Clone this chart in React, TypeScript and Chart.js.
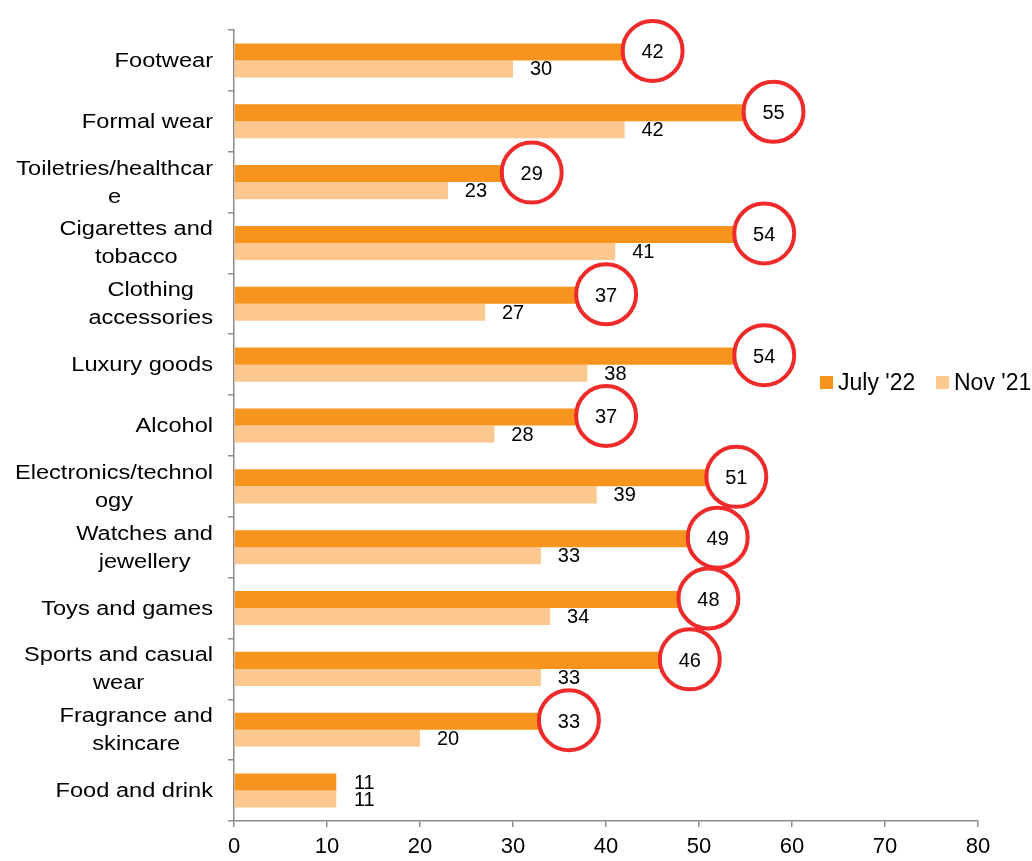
import React, { useEffect, useRef } from "react";
import { Chart, registerables } from "chart.js";

Chart.register(...registerables);

const categories: string[][] = [
  ["Footwear"],
  ["Formal wear"],
  ["Toiletries/healthcar", "e"],
  ["Cigarettes and", "tobacco"],
  ["Clothing", "accessories"],
  ["Luxury goods"],
  ["Alcohol"],
  ["Electronics/technol", "ogy"],
  ["Watches and", "jewellery"],
  ["Toys and games"],
  ["Sports and casual", "wear"],
  ["Fragrance and", "skincare"],
  ["Food and drink"],
];
const july22 = [42, 55, 29, 54, 37, 54, 37, 51, 49, 48, 46, 33, 11];
const nov21 = [30, 42, 23, 41, 27, 38, 28, 39, 33, 34, 33, 20, 11];
const circled = [true, true, true, true, true, true, true, true, true, true, true, true, false];
const seriesNames = ["July '22", "Nov '21"];
const xTicks = [0, 10, 20, 30, 40, 50, 60, 70, 80];

const COL_JULY = "#F7941E";
const COL_NOV = "#FCC88F";
const AXIS = "#8C8C8C";
const FONT = "'Liberation Sans', Arial, sans-serif";

export default function App() {
  const ref = useRef<HTMLCanvasElement>(null);
  useEffect(() => {
    if (!ref.current) return;
    const overlay = {
      id: "overlay",
      afterDatasetsDraw(chart: any) {
        const ctx = chart.ctx;
        const yScale = chart.scales.y;
        ctx.save();
        // category labels
        ctx.fillStyle = "#000";
        ctx.font = `20px ${FONT}`;
        ctx.textBaseline = "middle";
        ctx.textAlign = "center";
        const sx = 1.18;
        const right = 213;
        const lh = 28;
        categories.forEach((lines, i) => {
          const cy = yScale.getPixelForValue(i);
          const w = Math.max(...lines.map((l) => ctx.measureText(l).width)) * sx;
          const cx = right - w / 2;
          lines.forEach((l, k) => {
            const y = cy + (k - (lines.length - 1) / 2) * lh;
            ctx.save();
            ctx.translate(cx, y);
            ctx.scale(sx, 1);
            ctx.fillText(l, 0, 1);
            ctx.restore();
          });
        });
        // data labels
        ctx.font = `20px ${FONT}`;
        const labelPos: { x: number; y: number }[][] = [];
        [0, 1].forEach((d) => {
          const meta = chart.getDatasetMeta(d);
          labelPos[d] = [];
          meta.data.forEach((bar: any, i: number) => {
            const x = bar.x + 28;
            const y = bar.y + 1;
            labelPos[d][i] = { x, y };
            ctx.fillText(String(chart.data.datasets[d].data[i]), x, y);
          });
        });
        // highlight circles
        ctx.strokeStyle = "#EE2A2A";
        ctx.lineWidth = 4;
        labelPos[0].forEach((p, i) => {
          if (!circled[i]) return;
          ctx.beginPath();
          ctx.arc(p.x, p.y - 2, 30, 0, Math.PI * 2);
          ctx.stroke();
        });
        // legend
        ctx.font = `23px ${FONT}`;
        ctx.textAlign = "left";
        const legendItems = [
          { x: 820, color: COL_JULY, text: seriesNames[0] },
          { x: 936, color: COL_NOV, text: seriesNames[1] },
        ];
        legendItems.forEach((it) => {
          ctx.fillStyle = it.color;
          ctx.fillRect(it.x, 376, 13, 13);
          ctx.fillStyle = "#000";
          ctx.fillText(it.text, it.x + 18, 384);
        });
        ctx.restore();
      },
    };
    const chart = new Chart(ref.current, {
      type: "bar",
      data: {
        labels: categories.map((c) => c.join("")),
        datasets: [
          {
            label: seriesNames[0],
            data: july22,
            backgroundColor: COL_JULY,
            barPercentage: 1,
            categoryPercentage: 0.56,
          },
          {
            label: seriesNames[1],
            data: nov21,
            backgroundColor: COL_NOV,
            barPercentage: 1,
            categoryPercentage: 0.56,
          },
        ],
      },
      options: {
        indexAxis: "y",
        animation: false,
        responsive: false,
        layout: { padding: { top: 30, right: 54, bottom: 0, left: 0 } },
        plugins: { legend: { display: false }, tooltip: { enabled: false } },
        scales: {
          y: {
            grid: {
              offset: true,
              drawOnChartArea: false,
              drawTicks: true,
              tickLength: 6,
              color: AXIS,
              lineWidth: 1.5,
            },
            border: { display: true, color: AXIS, width: 1.5 },
            ticks: { display: false },
            afterFit: (s: any) => {
              s.width = 234;
            },
          },
          x: {
            min: 0,
            max: 80,
            afterBuildTicks: (s: any) => {
              s.ticks = xTicks.map((v) => ({ value: v }));
            },
            grid: {
              drawOnChartArea: false,
              drawTicks: true,
              tickLength: 6,
              color: AXIS,
              lineWidth: 1.5,
            },
            border: { display: true, color: AXIS, width: 1.5 },
            ticks: {
              color: "#000",
              font: { family: FONT, size: 22 },
              padding: 7,
              maxRotation: 0,
            },
            afterFit: (s: any) => {
              s.height = 40;
            },
          },
        },
      },
      plugins: [overlay],
    } as any);
    return () => chart.destroy();
  }, []);
  return (
    <div style={{ position: "absolute", left: 0, top: 0, width: 1032, height: 861 }}>
      <canvas ref={ref} width={1032} height={861} style={{ display: "block" }} />
    </div>
  );
}
